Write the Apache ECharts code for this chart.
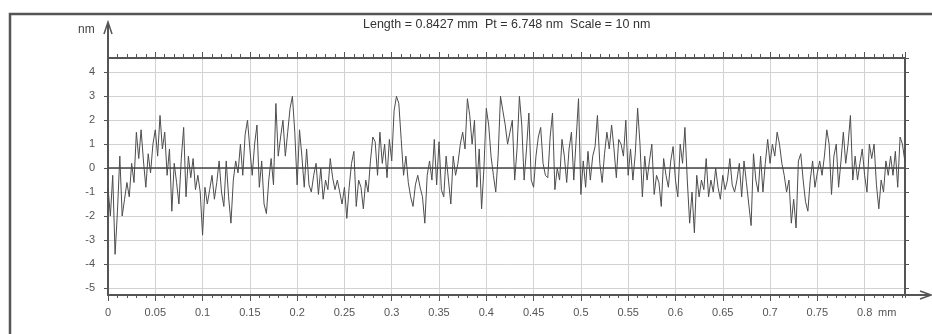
<!DOCTYPE html>
<html>
<head>
<meta charset="utf-8">
<script src="https://cdn.jsdelivr.net/npm/echarts@6/dist/echarts.min.js"></script>
<style>
html, body { margin: 0; padding: 0; background: #fff; }
#chart { width: 932px; height: 334px; }
</style>
</head>
<body>
<div id="chart"></div>
<script>
// profile length (mm) and vertical range (nm)
const lengthMm = 0.8427;
const heightMin = -5.3;
const heightMax = 4.6;
const sampleStep = 0.0025;

const titleText = 'Length = 0.8427 mm  Pt = 6.748 nm  Scale = 10 nm';

// measured heights (nm), one every sampleStep mm
const profile = [
	-0.8, -2.0, -0.3, -3.6, -1.8, 0.5, -2.0, -1.3, -0.6, -1.2,
	0.2, -0.6, 1.5, 0.4, 1.6, 0.3, -0.8, 0.6, -0.2, 1.0,
	1.6, 0.5, 2.2, 0.8, 1.5, -0.3, 0.8, -1.8, 0.2, -0.6,
	-1.5, 0.4, 1.7, -1.2, 0.5, -0.4, 0.4, -0.9, -0.3, -1.0,
	-2.8, -0.8, -1.5, -0.9, -0.3, -1.3, -0.6, 0.3, -1.0, -1.6,
	0.3, -1.2, -2.3, -0.5, 0.3, -0.2, 1.0, -0.3, 1.4, 2.0,
	0.8, -0.3, 1.0, 1.8, -0.8, 0.3, -1.5, -1.9, -0.5, 0.4,
	-0.7, 2.7, 0.5, 1.3, 2.0, 0.5, 1.5, 2.5, 3.0, 1.5,
	-0.7, 1.6, 0.5, -0.8, 0.8, -0.7, -1.0, -0.3, 0.2, -1.1,
	0.0, -1.3, -0.5, -0.9, 0.4, -0.4, -0.9, -0.5, -1.0, -1.5,
	-0.8, -2.1, -0.8, 0.2, 0.7, -1.6, -0.5, -0.8, -1.7, -0.5,
	-1.0, 0.3, 1.3, 1.1, -0.3, 1.5, 0.2, 1.0, -0.4, 1.2,
	0.3, 2.4, 3.0, 2.7, 1.2, -0.3, 0.5, -0.6, -1.2, -1.6,
	-0.7, -0.3, -0.8, -1.2, -2.3, -0.3, 0.3, -0.5, 1.2, -0.7,
	1.1, -0.9, -1.2, 0.5, -0.5, -1.5, 0.5, -0.3, 0.2, 1.0,
	1.5, 0.8, 2.9, 2.2, 1.0, 2.0, -0.8, 0.8, -1.7, 0.0,
	2.5, 1.8, 0.5, -0.3, -1.0, 0.5, 3.0, 2.4, 1.8, 1.0,
	1.5, 2.0, -0.5, 0.8, 3.0, 1.8, -0.5, 0.8, 2.3, -0.5,
	-0.8, 0.5, 1.3, 1.7, 0.2, -0.3, -0.4, 1.3, 2.3, -0.9,
	0.0, -0.5, 1.2, 0.5, -0.6, 0.8, 1.5, -0.5, 1.2, 2.9,
	-1.1, 0.3, -0.8, 0.7, -0.5, 0.5, 0.9, 2.2, 0.2, -0.6,
	0.6, 1.5, 0.8, 1.8, 0.8, -0.4, 1.2, 1.0, 0.5, 2.0,
	-0.3, 0.8, -0.5, 0.6, 2.5, 1.0, -1.2, 0.5, -0.5, 0.3,
	1.0, -1.1, -0.3, -0.6, -1.6, 0.4, -0.3, -0.8, 0.3, 0.9,
	-0.5, -1.2, 1.0, 0.2, 1.7, -0.5, -2.3, -1.0, -2.7, -0.3,
	-1.2, -0.5, -0.9, 0.4, -1.2, -0.5, -1.0, 0.0, -0.8, -1.3,
	-0.3, -0.9, -0.5, 0.4, -0.7, -1.0, -0.5, 0.2, -1.2, 0.3,
	-0.6, -1.5, -2.4, 0.6, -0.5, -1.0, 0.5, -1.0, 0.2, 1.2,
	0.2, 1.0, 0.5, 1.5, 1.0, 0.2, -0.3, -1.0, -0.5, -2.3,
	-1.3, -2.5, 0.3, 0.6, -0.5, -1.4, -1.8, -0.5, 0.3, -0.8,
	-0.2, 0.3, -0.3, 0.5, 1.6, 1.0, -1.1, 0.5, 1.0, -0.8,
	0.3, 1.5, 0.2, 1.0, 2.2, -0.5, 0.5, -0.5, 0.2, 0.8,
	-0.3, -1.0, 1.0, 0.4, 1.0, -0.7, -1.7, -0.5, -1.0, 0.3,
	-0.3, 0.5, -0.3, 0.7, -0.8, 1.3, 1.0, 0.3
];

const profileData = profile.map((v, i) => [+(i * sampleStep).toFixed(4), v]);

const chart = echarts.init(document.getElementById('chart'));

const axisColor = '#555';
const gridColor = '#d2d2d2';
const labelFont = 'Liberation Sans, Arial, sans-serif';

// x axes: major ticks on grid 0, 0.01 ticks on grid 1
function xAxisDef(gridIndex, position, interval, tickLen, withLabels) {
	return {
		type: 'value',
		gridIndex: gridIndex,
		position: position,
		min: 0,
		max: lengthMm,
		interval: interval,
		axisLine: { show: gridIndex === 0, onZero: false, lineStyle: { color: axisColor, width: 2 } },
		axisTick: { show: true, inside: false, length: tickLen, lineStyle: { color: axisColor, width: 1 } },
		axisLabel: {
			show: withLabels,
			margin: 12,
			color: '#555',
			fontSize: 11,
			fontFamily: labelFont,
			showMaxLabel: false
		},
		splitLine: { show: withLabels, lineStyle: { color: gridColor, width: 1 } }
	};
}

function yAxisDef(gridIndex, position, show, withLabels) {
	return {
		type: 'value',
		gridIndex: gridIndex,
		position: position,
		min: heightMin,
		max: heightMax,
		splitNumber: 10,
		show: show,
		axisLine: { show: true, onZero: false, lineStyle: { color: axisColor, width: 2 } },
		axisTick: { show: true, inside: false, length: 4, lineStyle: { color: axisColor } },
		axisLabel: {
			show: withLabels,
			margin: 13,
			color: '#555',
			fontSize: 11,
			fontFamily: labelFont,
			showMinLabel: false,
			showMaxLabel: false
		},
		splitLine: { show: withLabels, lineStyle: { color: gridColor, width: 1 } }
	};
}

const option = {
	animation: false,
	backgroundColor: '#fff',
	grid: [
		{ left: 108, top: 58, width: 797, height: 237 },
		{ left: 108, top: 58, width: 797, height: 237 }
	],
	xAxis: [
		xAxisDef(0, 'bottom', 0.05, 6, true),
		xAxisDef(0, 'top', 0.05, 6, false),
		xAxisDef(1, 'bottom', 0.01, 3, false),
		xAxisDef(1, 'top', 0.01, 4, false)
	],
	yAxis: [
		yAxisDef(0, 'left', true, true),
		yAxisDef(0, 'right', true, false),
		yAxisDef(1, 'left', false, false)
	],
	graphic: [
		// outer frame
		{ type: 'rect', shape: { x: 10, y: 14, width: 940, height: 340 },
			style: { fill: 'none', stroke: '#555', lineWidth: 2.5 }, z: 100 },
		// axis arrows
		{ type: 'polyline', shape: { points: [[108, 58], [108, 23]] },
			style: { stroke: axisColor, lineWidth: 2 }, z: 100 },
		{ type: 'polyline', shape: { points: [[104, 34], [108, 22], [112, 34]] },
			style: { stroke: axisColor, lineWidth: 1.5, fill: 'none' }, z: 100 },
		{ type: 'polyline', shape: { points: [[905, 295], [930, 295]] },
			style: { stroke: axisColor, lineWidth: 2 }, z: 100 },
		{ type: 'polyline', shape: { points: [[920, 291], [931, 295], [920, 299]] },
			style: { stroke: axisColor, lineWidth: 1.5, fill: 'none' }, z: 100 },
		{ type: 'text', left: 78, top: 24, z: 100,
			style: { text: 'nm', fill: '#444', font: '12px ' + labelFont } },
		{ type: 'text', left: 878, top: 307, z: 100,
			style: { text: 'mm', fill: '#555', font: '11px ' + labelFont } },
		{ type: 'text', left: 363, top: 18, z: 100,
			style: { text: titleText, fill: '#333', font: '12.5px ' + labelFont } }
	],
	series: [{
		type: 'line',
		xAxisIndex: 0,
		yAxisIndex: 0,
		data: profileData,
		showSymbol: false,
		symbol: 'none',
		lineStyle: { color: '#4d4d4d', width: 1 },
		markLine: {
			silent: true,
			symbol: 'none',
			label: { show: false },
			lineStyle: { color: '#444', width: 1.5, type: 'solid' },
			data: [{ yAxis: 0 }]
		}
	}]
};

chart.setOption(option);
</script>
</body>
</html>
